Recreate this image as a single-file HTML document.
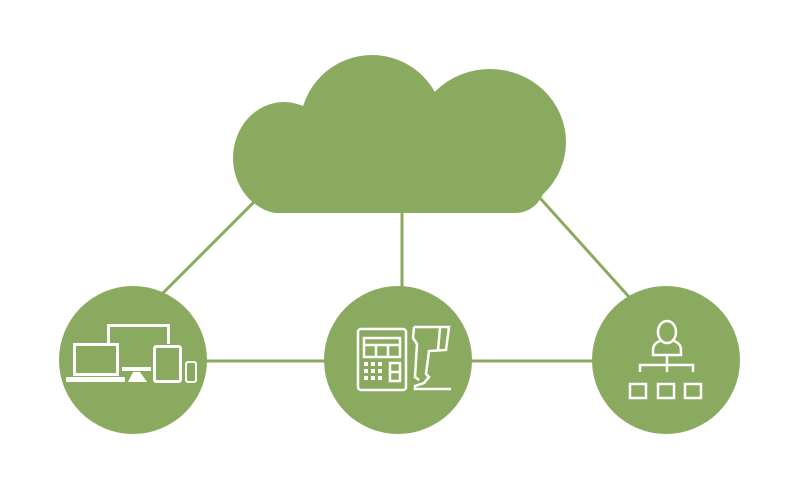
<!DOCTYPE html>
<html><head><meta charset="utf-8"><style>html,body{margin:0;padding:0;background:#fff;width:800px;height:500px;overflow:hidden}</style></head>
<body>
<svg width="800" height="500" viewBox="0 0 800 500" xmlns="http://www.w3.org/2000/svg">
<defs><clipPath id="c"><rect x="0" y="0" width="800" height="213"/></clipPath></defs>
<g stroke="#8aab5f" stroke-width="3" fill="none">
<line x1="258" y1="198" x2="160" y2="296"/>
<line x1="402" y1="205" x2="402" y2="290"/>
<line x1="540" y1="198" x2="630" y2="298"/>
<line x1="200" y1="361" x2="330" y2="361"/>
<line x1="465" y1="361" x2="600" y2="361"/>
</g>
<g fill="#8aab5f" clip-path="url(#c)">
<ellipse cx="284" cy="158" rx="51" ry="56"/>
<circle cx="372" cy="127" r="72"/>
<ellipse cx="490" cy="142" rx="76" ry="73"/>
<rect x="250" y="120" width="295" height="93" rx="30"/>
</g>
<g fill="#8aab5f">
<circle cx="133" cy="360" r="74"/>
<circle cx="398" cy="360" r="74"/>
<circle cx="666" cy="360" r="74"/>
</g>
<g stroke="#fff" fill="none" stroke-width="3">
<polyline points="108.5,344 108.5,325.5 168.5,325.5 168.5,344"/>
<rect x="74.5" y="344.5" width="43" height="30"/>
<rect x="154.5" y="346.5" width="26" height="35" rx="2"/>
<rect x="186" y="362" width="10" height="20" rx="2" stroke-width="2"/>
</g>
<g fill="#fff">
<rect x="66" y="377" width="59" height="5" rx="1"/>
<rect x="122" y="367" width="29" height="4"/>
<polygon points="133,372 140,372 147,382 128,382"/>
</g>
<g stroke="#fff" fill="none" stroke-width="2.5">
<rect x="358" y="329" width="48" height="61" rx="3"/>
<rect x="364" y="338" width="36" height="19"/>
<line x1="364" y1="345" x2="400" y2="345"/>
<line x1="376" y1="345" x2="376" y2="357"/>
<line x1="388" y1="345" x2="388" y2="357"/>
<rect x="390" y="363" width="10" height="18"/>
<line x1="390" y1="372" x2="400" y2="372"/>
<path d="M414,327 L449,327 L446,350 L429,351 L426,374 L429,377 L424,383 L415,386 L415,389 L451,389 M414,327 L413,338 L417,344 L415,377 L419,380"/>
<line x1="440" y1="328" x2="438" y2="350"/>
</g>
<g fill="#fff">
<rect x="364" y="362" width="4" height="4"/><rect x="371" y="362" width="4" height="4"/><rect x="378" y="362" width="4" height="4"/>
<rect x="364" y="369" width="4" height="4"/><rect x="371" y="369" width="4" height="4"/><rect x="378" y="369" width="4" height="4"/>
<rect x="364" y="376" width="4" height="4"/><rect x="371" y="376" width="4" height="4"/><rect x="378" y="376" width="4" height="4"/>
</g>
<g stroke="#fff" fill="none" stroke-width="2.5">
<ellipse cx="667" cy="332" rx="9" ry="11"/>
<path d="M660,341 C652,344 653,349 653,355 L681,355 C681,349 682,344 674,341"/>
<line x1="667" y1="355" x2="667" y2="372"/>
<polyline points="640,372 640,365 693,365 693,372"/>
<rect x="630" y="384" width="16" height="14"/>
<rect x="658" y="384" width="16" height="14"/>
<rect x="685" y="384" width="16" height="14"/>
</g>
</svg>
</body></html>
